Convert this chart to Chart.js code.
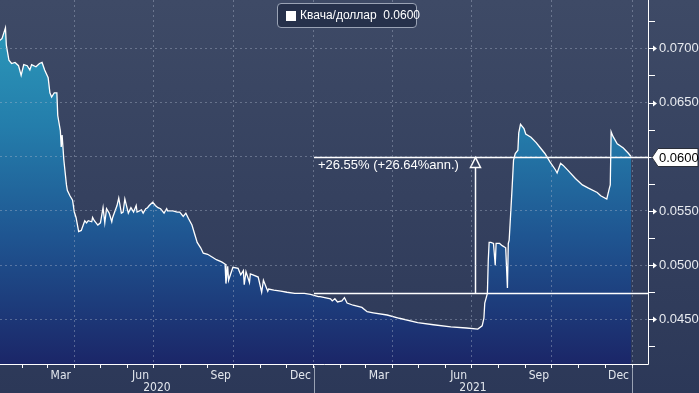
<!DOCTYPE html>
<html><head><meta charset="utf-8">
<script src="https://cdn.jsdelivr.net/npm/chart.js@4.4.1/dist/chart.umd.min.js"></script>
<style>
html,body{margin:0;padding:0;width:699px;height:393px;overflow:hidden;background:linear-gradient(#3e4a66,#2c3858);}
#wrap{position:relative;width:699px;height:393px;}
canvas{position:absolute;left:0;top:0;}
#legend{position:absolute;left:277px;top:3px;width:140px;height:25px;box-sizing:border-box;border:1px solid #9aa3b5;border-radius:4px;background:#26314b;font:12px "Liberation Sans",Arial,sans-serif;color:#fff;white-space:pre;}
#legend .sw{position:absolute;left:8px;top:7px;width:10px;height:10px;background:#fff;}
#legend .tx{position:absolute;left:22px;top:4px;}
</style></head>
<body><div id="wrap"><canvas id="c" width="699" height="393"></canvas>
<div id="legend"><span class="sw"></span><span class="tx" id="legtx"></span></div></div>
<script>
// ---------- DATA ----------
const seriesName = 'Квача/доллар';
const dates = [
'2020-01-06','2020-01-09','2020-01-13','2020-01-14','2020-01-17','2020-01-20','2020-01-24','2020-01-28','2020-01-31','2020-02-03',
'2020-02-07','2020-02-10','2020-02-12','2020-02-17','2020-02-21','2020-02-24','2020-02-27','2020-03-02','2020-03-04','2020-03-06',
'2020-03-09','2020-03-12','2020-03-13','2020-03-16','2020-03-17','2020-03-18','2020-03-20','2020-03-23','2020-03-24','2020-03-27',
'2020-03-30','2020-04-01','2020-04-03','2020-04-06','2020-04-09','2020-04-13','2020-04-15','2020-04-17','2020-04-21','2020-04-22',
'2020-04-24','2020-04-28','2020-05-01','2020-05-04','2020-05-06','2020-05-08','2020-05-11','2020-05-14','2020-05-15','2020-05-20',
'2020-05-22','2020-05-25','2020-05-27','2020-05-29','2020-06-02','2020-06-05','2020-06-08','2020-06-11','2020-06-12','2020-06-17',
'2020-06-19','2020-06-22','2020-06-24','2020-06-26','2020-06-30','2020-07-03','2020-07-06','2020-07-09','2020-07-13','2020-07-16',
'2020-07-17','2020-07-23','2020-07-28','2020-07-31','2020-08-04','2020-08-07','2020-08-10','2020-08-14','2020-08-17','2020-08-20',
'2020-08-24','2020-08-27','2020-09-01','2020-09-07','2020-09-11','2020-09-17','2020-09-21','2020-09-22','2020-09-24','2020-09-25',
'2020-09-30','2020-10-06','2020-10-09','2020-10-12','2020-10-13','2020-10-15','2020-10-19','2020-10-20','2020-10-23','2020-10-29',
'2020-11-02','2020-11-04','2020-11-09','2020-11-10','2020-11-16','2020-11-24','2020-12-01','2020-12-10','2020-12-21','2020-12-28',
'2021-01-06','2021-01-08','2021-01-20','2021-01-22','2021-01-25','2021-01-28','2021-02-02','2021-02-05','2021-02-08','2021-02-15',
'2021-02-25','2021-03-03','2021-03-10','2021-03-26','2021-04-09','2021-04-30','2021-05-18','2021-06-07','2021-06-25','2021-07-08',
'2021-07-13','2021-07-15','2021-07-16','2021-07-19','2021-07-20','2021-07-21','2021-07-23','2021-07-26','2021-07-28','2021-07-29',
'2021-08-02','2021-08-05','2021-08-09','2021-08-11','2021-08-12','2021-08-13','2021-08-16','2021-08-17','2021-08-18','2021-08-20',
'2021-08-23','2021-08-24','2021-08-26','2021-08-30','2021-09-01','2021-09-07','2021-09-13','2021-09-17','2021-09-23','2021-09-29',
'2021-10-05','2021-10-07','2021-10-11','2021-10-14','2021-10-20','2021-10-28','2021-11-05','2021-11-12','2021-11-22','2021-11-26',
'2021-12-03','2021-12-06','2021-12-07','2021-12-08','2021-12-10','2021-12-15','2021-12-22','2021-12-28','2021-12-31'
];
const rates = [
0.0707,0.0709,0.0719,0.0703,0.0689,0.0686,0.0687,0.0684,0.0675,0.0685,
0.0684,0.0680,0.0685,0.0683,0.0686,0.0687,0.0680,0.0673,0.0659,0.0655,
0.0659,0.0659,0.0638,0.0624,0.0609,0.0620,0.0597,0.0574,0.0569,0.0564,
0.0560,0.0549,0.0544,0.0531,0.0532,0.0541,0.0539,0.0541,0.0540,0.0544,
0.0541,0.0537,0.0539,0.0553,0.0539,0.0552,0.0548,0.0540,0.0544,0.0555,
0.0562,0.0548,0.0549,0.0561,0.0548,0.0553,0.0549,0.0555,0.0549,0.0551,
0.0548,0.0552,0.0553,0.0555,0.0558,0.0555,0.0553,0.0552,0.0548,0.0552,
0.0550,0.0550,0.0549,0.0549,0.0545,0.0548,0.0543,0.0537,0.0529,0.0521,
0.0516,0.0511,0.0510,0.0507,0.0505,0.0503,0.0501,0.0483,0.0499,0.0486,
0.0498,0.0497,0.0491,0.0495,0.0482,0.0494,0.0484,0.0492,0.0491,0.0489,
0.0475,0.0486,0.0476,0.0478,0.0477,0.0476,0.0475,0.0474,0.0474,0.0473,
0.0471,0.0471,0.0469,0.0467,0.0469,0.0466,0.0467,0.0470,0.0465,0.0463,
0.0461,0.0457,0.0456,0.0454,0.0451,0.0447,0.0445,0.0443,0.0442,0.0441,
0.0444,0.0451,0.0465,0.0474,0.0504,0.0521,0.0521,0.0520,0.0500,0.0520,
0.0520,0.0518,0.0516,0.0479,0.0520,0.0523,0.0566,0.0581,0.0597,0.0603,
0.0606,0.0622,0.0630,0.0626,0.0621,0.0618,0.0613,0.0609,0.0603,0.0595,
0.0588,0.0585,0.0594,0.0592,0.0587,0.0580,0.0574,0.0571,0.0567,0.0564,
0.0561,0.0571,0.0574,0.0623,0.0619,0.0612,0.0608,0.0603,0.0600
];
const yTicks = [0.0425,0.0450,0.0475,0.0500,0.0525,0.0550,0.0575,0.0600,0.0625,0.0650,0.0675,0.0700,0.0725];
const monthNames = ['Jan','Feb','Mar','Apr','May','Jun','Jul','Aug','Sep','Oct','Nov','Dec'];
const labeledMonths = ['Mar','Jun','Sep','Dec'];
const yearLabels = ['2020','2021'];
const changeFrom = 0.04741;
const changeTo = 0.0600;
const changeText = '+26.55% (+26.64%ann.)';
const changeStartDate = '2021-01-01';
const changeArrowDate = '2021-07-05';

// ---------- helpers ----------
const epoch = Date.UTC(2020,0,1);
function dayNum(s){const p=s.split('-').map(Number);return (Date.UTC(p[0],p[1]-1,p[2])-epoch)/864e5;}
function isMajor(v){const r=v/0.005;return Math.abs(r-Math.round(r))<1e-6;}
const lastVal = rates[rates.length-1];
document.getElementById('legtx').textContent = seriesName + '  ' + lastVal.toFixed(4);

const xMin = 5.74, xMax = 749.3;
const yMin = 0.04088, yMax = 0.07446;

const monthStarts = [];
for (let y=2020; y<=2022; y++) for (let m=0; m<12; m++) {
  const d=(Date.UTC(y,m,1)-epoch)/864e5;
  if (d>xMin && d<xMax) monthStarts.push({v:d,y:y,m:m});
}

const gridCol = 'rgba(175,185,205,0.4)';
const FONT_AX = '12px "Liberation Sans Narrow","DejaVu Sans Condensed","Liberation Sans",Arial,sans-serif';

const decor = {
  id:'decor',
  afterDatasetsDraw(chart){
    const c=chart.ctx, xs=chart.scales.x, ys=chart.scales.y, a=chart.chartArea;
    c.save();
    const x0 = xs.getPixelForValue(dayNum(changeStartDate));
    const yT = Math.round(ys.getPixelForValue(changeTo))+0.5;
    const yB = Math.round(ys.getPixelForValue(changeFrom))+0.5;
    c.strokeStyle='#ffffff'; c.lineWidth=1.5;
    c.beginPath(); c.moveTo(x0,yT); c.lineTo(a.right,yT); c.moveTo(x0,yB); c.lineTo(a.right,yB); c.stroke();
    const xa = Math.round(xs.getPixelForValue(dayNum(changeArrowDate)))+0.5;
    c.beginPath(); c.moveTo(xa,yB); c.lineTo(xa,yT+10); c.stroke();
    c.beginPath(); c.moveTo(xa,yT); c.lineTo(xa-5,yT+10); c.lineTo(xa+5,yT+10); c.closePath(); c.stroke();
    c.fillStyle='#ffffff'; c.font='13px "Liberation Sans",Arial,sans-serif'; c.textBaseline='middle'; c.textAlign='left';
    c.fillText(changeText, x0+4, yT+8);
    c.restore();
  },
  afterDraw(chart){
    const c=chart.ctx, xs=chart.scales.x, ys=chart.scales.y, a=chart.chartArea;
    c.save();
    c.strokeStyle='#ffffff'; c.lineWidth=1;
    c.beginPath(); c.moveTo(a.left,a.bottom+0.5); c.lineTo(a.right+0.5,a.bottom+0.5);
    c.moveTo(a.right+0.5,a.top); c.lineTo(a.right+0.5,a.bottom+0.5); c.stroke();
    c.fillStyle='#ffffff';
    yTicks.forEach(v=>{
      const y=Math.round(ys.getPixelForValue(v))+0.5;
      c.beginPath();
      if (isMajor(v)) { c.moveTo(a.right,y); c.lineTo(a.right+5,y); c.stroke();
        c.beginPath(); c.moveTo(a.right+5,y-3); c.lineTo(a.right+9,y); c.lineTo(a.right+5,y+3); c.closePath(); c.fill(); }
      else { c.moveTo(a.right,y); c.lineTo(a.right+7,y); c.stroke(); }
    });
    c.font=FONT_AX; c.fillStyle='#e3e7ee'; c.textAlign='center'; c.textBaseline='middle';
    monthStarts.forEach(ms=>{
      const name=monthNames[ms.m];
      if (labeledMonths.indexOf(name)<0) return;
      const dim=new Date(Date.UTC(ms.y,ms.m+1,0)).getUTCDate();
      const xc=xs.getPixelForValue(ms.v+dim/2);
      if (xc>a.left+8 && xc<a.right-8) c.fillText(name,xc,a.bottom+12);
    });
    c.strokeStyle='rgba(200,206,218,0.7)';
    yearLabels.forEach(yl=>{
      const yr=+yl;
      const s=Math.max(xs.getPixelForValue((Date.UTC(yr,0,1)-epoch)/864e5),a.left);
      const ePix=xs.getPixelForValue((Date.UTC(yr+1,0,1)-epoch)/864e5);
      const e=Math.min(ePix,a.right);
      c.fillText(yl,(s+e)/2,a.bottom+23.5);
      if (ePix<a.right){ const xx=Math.round(ePix)+0.5; c.beginPath(); c.moveTo(xx,a.bottom+2); c.lineTo(xx,393); c.stroke(); }
    });
    const yv=Math.round(ys.getPixelForValue(lastVal))+0.5;
    const bx=a.right+4;
    c.beginPath(); c.moveTo(bx,yv); c.lineTo(bx+6,yv-9); c.lineTo(698,yv-9); c.lineTo(698,yv+9); c.lineTo(bx+6,yv+9); c.closePath();
    c.fillStyle='#ffffff'; c.fill(); c.strokeStyle='#2a2f3a'; c.lineWidth=1; c.stroke();
    c.fillStyle='#000000'; c.font='13px "Liberation Sans",Arial,sans-serif'; c.textAlign='left'; c.textBaseline='middle';
    c.fillText(lastVal.toFixed(4), a.right+11, yv+0.5);
    c.restore();
  }
};

function noPad(s){s.paddingTop=0;s.paddingBottom=0;s.paddingLeft=0;s.paddingRight=0;}

new Chart(document.getElementById('c'), {
  type:'line',
  data:{datasets:[{
    label:seriesName,
    data:dates.map((d,i)=>({x:dayNum(d),y:rates[i]})),
    borderColor:'#ffffff', borderWidth:1.3, pointRadius:0, tension:0, fill:'start',
    backgroundColor:(ctx)=>{
      const ar=ctx.chart.chartArea; if(!ar) return '#2277a5';
      const g=ctx.chart.ctx.createLinearGradient(0,ar.top,0,ar.bottom);
      g.addColorStop(0,'#2d9fbd'); g.addColorStop(0.35,'#247dab'); g.addColorStop(0.65,'#1f5591'); g.addColorStop(1,'#1b2668');
      return g;
    }
  }]},
  options:{
    responsive:false, animation:false, devicePixelRatio:1, events:[],
    layout:{padding:0},
    plugins:{legend:{display:false},tooltip:{enabled:false}},
    scales:{
      x:{type:'linear', min:xMin, max:xMax,
        afterBuildTicks:(s)=>{s.ticks=monthStarts.map(m=>({value:m.v}));},
        afterFit:(s)=>{s.height=29;noPad(s);},
        ticks:{display:false},
        grid:{z:1, color:(c)=>{const t=c.tick; if(!t) return 'rgba(0,0,0,0)'; const ms=monthStarts.find(m=>Math.abs(m.v-t.value)<1e-6); return (ms && ms.m%3===0)?gridCol:'rgba(0,0,0,0)';},
          drawTicks:true, tickLength:4, tickColor:'#ffffff', tickWidth:1, tickBorderDash:[]},
        border:{display:false, dash:[2,3]}
      },
      y:{position:'right', min:yMin, max:yMax,
        afterBuildTicks:(s)=>{s.ticks=yTicks.map(v=>({value:v}));},
        afterFit:(s)=>{s.width=51;noPad(s);},
        ticks:{color:'#e8ebf0', font:{family:'"Liberation Sans",Arial,sans-serif', size:13}, padding:11, autoSkip:false,
          callback:(v)=>isMajor(v)?Number(v).toFixed(4):''},
        grid:{z:1, color:(c)=>(c.tick && isMajor(c.tick.value))?gridCol:'rgba(0,0,0,0)', drawTicks:false},
        border:{display:false, dash:[2,3]}
      }
    }
  },
  plugins:[decor]
});
</script></body></html>
